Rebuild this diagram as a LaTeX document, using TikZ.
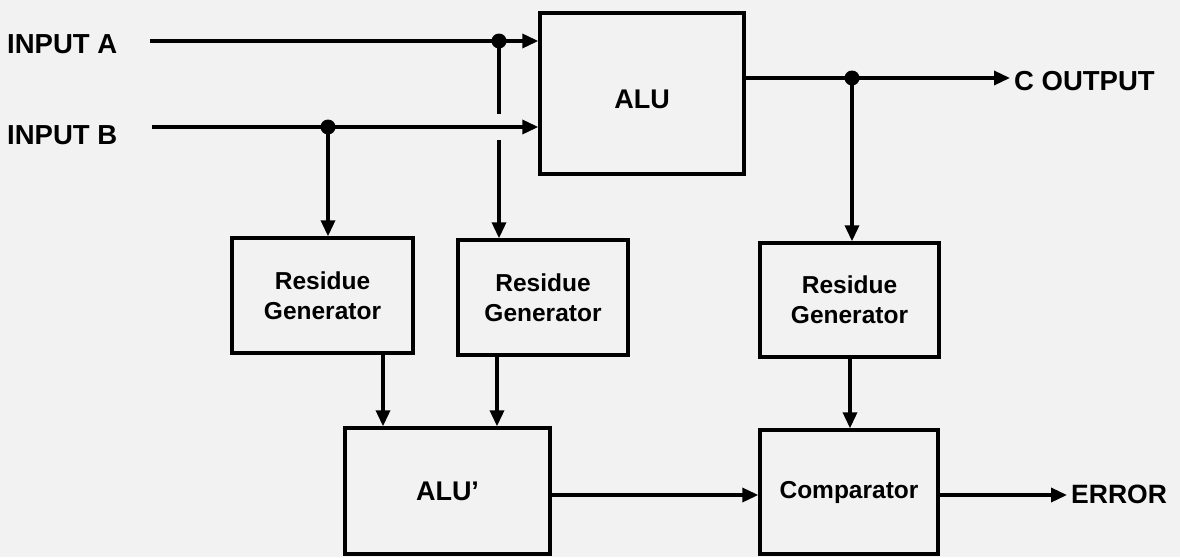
\documentclass[tikz,border=0pt]{standalone}
\usepackage{fontspec}
\setmainfont{Liberation Sans}
\usetikzlibrary{arrows.meta}
\begin{document}
\begin{tikzpicture}[x=1pt,y=-1pt,
  wire/.style={line width=3.4pt,line cap=butt},
  arr/.style={wire,-{Triangle[length=16pt,width=14pt]}},
  blk/.style={draw,line width=3.4pt,inner sep=0pt,align=center,font=\bfseries\fontsize{24.5}{30}\selectfont},
  bigtxt/.style={font=\bfseries\fontsize{27}{30}\selectfont},
  lbl/.style={inner sep=0pt,anchor=west,font=\bfseries\fontsize{27.5}{30}\selectfont},
  jdot/.style={circle,fill,inner sep=0pt,minimum size=15pt}]
\useasboundingbox (0,0) rectangle (1180,557);
\fill[black!5] (0,0) rectangle (1180,557);
% blocks
\node[blk,minimum width=204pt,minimum height=161pt,label={[bigtxt,yshift=-6pt]center:ALU}] (alu) at (642,93.5) {};
\node[blk,minimum width=181pt,minimum height=115pt] (rg1) at (322.5,295.5) {Residue\\Generator};
\node[blk,minimum width=170pt,minimum height=115pt] (rg2) at (543,297.5) {Residue\\Generator};
\node[blk,minimum width=179pt,minimum height=114pt] (rg3) at (849.5,300) {Residue\\Generator};
\node[blk,bigtxt,minimum width=205pt,minimum height=126pt] (alup) at (447.5,491) {ALU’};
\node[blk,minimum width=178pt,minimum height=124pt] (cmp) at (849,492) {Comparator};
% labels
\node[lbl] (ina) at (7,44) {INPUT A};
\node[lbl] (inb) at (7,135) {INPUT B};
\node[lbl] (cout) at (1014,81) {C OUTPUT};
\node[lbl,font=\bfseries\fontsize{26.5}{30}\selectfont] (err) at (1071,494) {ERROR};
% junctions and wire ends
\coordinate (a0) at (150,41);
\coordinate (b0) at (152,127);
\node[jdot] (da) at (499,41) {};
\node[jdot] (db) at (328,127) {};
\node[jdot] (dc) at (852,78) {};
\coordinate (ca) at (499,114);
\coordinate (cb) at (499,140);
\coordinate (cend) at (1010,78);
\coordinate (eend) at (1067,495);
% connectors
\draw[arr] (a0) -- (a0 -| alu.west);
\draw[arr] (b0) -- (b0 -| alu.west);
\draw[wire] (da.center) -- (ca);
\draw[arr] (cb) -- (cb |- rg2.north);
\draw[arr] (db.center) -- (db |- rg1.north);
\draw[arr] (dc -| alu.east) -- (cend);
\draw[arr] (dc.center) -- (dc |- rg3.north);
\draw[arr] ([xshift=60.5pt]rg1.south) -- ([xshift=60.5pt]rg1.south |- alup.north);
\draw[arr] ([xshift=-46pt]rg2.south) -- ([xshift=-46pt]rg2.south |- alup.north);
\draw[arr] ([xshift=0.5pt]rg3.south) -- ([xshift=0.5pt]rg3.south |- cmp.north);
\draw[arr] (eend -| alup.east) -- (eend -| cmp.west);
\draw[arr] (eend -| cmp.east) -- (eend);
\end{tikzpicture}
\end{document}
